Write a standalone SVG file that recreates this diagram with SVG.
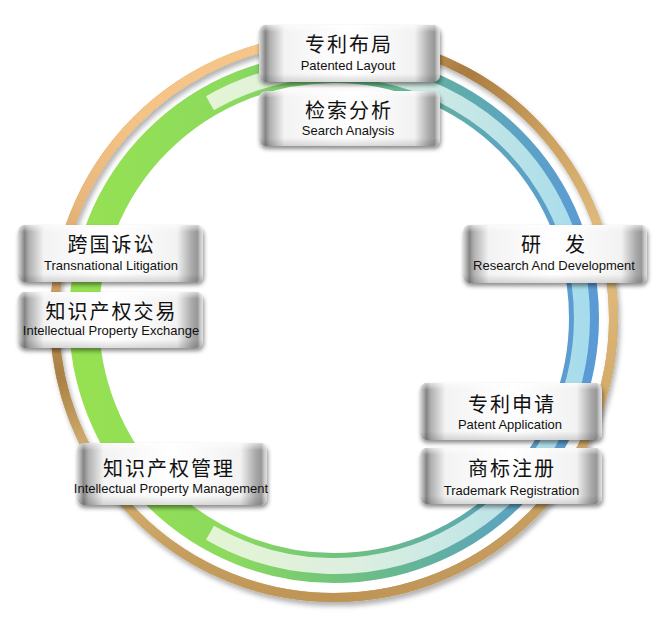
<svg xmlns="http://www.w3.org/2000/svg" width="665" height="626" viewBox="0 0 665 626">
<defs>
<style>
.cn{font-family:"Noto Sans CJK SC","Noto Sans CJK JP",sans-serif;font-size:20px;fill:#111;text-anchor:middle;letter-spacing:2px}
.en{font-family:"Liberation Sans",Arial,sans-serif;font-size:13px;fill:#111;text-anchor:middle}
.box{fill:url(#metal);filter:url(#bshadow)}
.gloss{fill:url(#vgloss)}
.seg{fill:none;stroke-width:9}
</style>
<linearGradient id="metal" x1="0" y1="0" x2="1" y2="0">
<stop offset="0" stop-color="#dcdcdc"/>
<stop offset="0.015" stop-color="#b8b8b8"/>
<stop offset="0.035" stop-color="#858585"/>
<stop offset="0.06" stop-color="#b0b0b0"/>
<stop offset="0.14" stop-color="#f3f3f3"/>
<stop offset="0.5" stop-color="#ffffff"/>
<stop offset="0.86" stop-color="#f2f2f2"/>
<stop offset="0.94" stop-color="#a9a9a9"/>
<stop offset="0.97" stop-color="#989898"/>
<stop offset="0.985" stop-color="#c6c6c6"/>
<stop offset="1" stop-color="#e2e2e2"/>
</linearGradient>
<linearGradient id="vgloss" x1="0" y1="0" x2="0" y2="1">
<stop offset="0" stop-color="#fff" stop-opacity="0.6"/>
<stop offset="0.12" stop-color="#fff" stop-opacity="0"/>
<stop offset="0.85" stop-color="#000" stop-opacity="0"/>
<stop offset="1" stop-color="#000" stop-opacity="0.14"/>
</linearGradient>
<filter id="bshadow" x="-10%" y="-15%" width="125%" height="140%">
<feDropShadow dx="1" dy="3" stdDeviation="2" flood-color="#000" flood-opacity="0.45"/>
</filter>
<filter id="rshadow" x="-10%" y="-10%" width="120%" height="120%">
<feDropShadow dx="2" dy="4" stdDeviation="2.5" flood-color="#000" flood-opacity="0.3"/>
</filter>
<linearGradient id="band" gradientUnits="userSpaceOnUse" x1="84" y1="318" x2="584" y2="318">
<stop offset="0" stop-color="#96e152"/>
<stop offset="0.3" stop-color="#8cda5e"/>
<stop offset="0.5" stop-color="#70c47c"/>
<stop offset="0.7" stop-color="#62b0a0"/>
<stop offset="0.85" stop-color="#5ca4c0"/>
<stop offset="1" stop-color="#5b9bd5"/>
</linearGradient>
<linearGradient id="stripe" gradientUnits="userSpaceOnUse" x1="210" y1="318" x2="584" y2="318">
<stop offset="0" stop-color="#e4f4d4"/>
<stop offset="0.4" stop-color="#dcefe0"/>
<stop offset="0.7" stop-color="#c4e6e6"/>
<stop offset="1" stop-color="#a6dcec"/>
</linearGradient>
<linearGradient id="s1" gradientUnits="userSpaceOnUse" x1="334" y1="597.5" x2="194.25" y2="560.05"><stop offset="0" stop-color="#be9456"/><stop offset="1" stop-color="#c49c5c"/></linearGradient>
<linearGradient id="s2" gradientUnits="userSpaceOnUse" x1="194.25" y1="560.05" x2="91.95" y2="457.75"><stop offset="0" stop-color="#c49c5c"/><stop offset="1" stop-color="#d8b676"/></linearGradient>
<linearGradient id="s3" gradientUnits="userSpaceOnUse" x1="91.95" y1="457.75" x2="60.61" y2="376.11"><stop offset="0" stop-color="#d8b676"/><stop offset="1" stop-color="#a88044"/></linearGradient>
<linearGradient id="s4" gradientUnits="userSpaceOnUse" x1="60.61" y1="376.11" x2="55.56" y2="293.64"><stop offset="0" stop-color="#a88044"/><stop offset="1" stop-color="#c89c60"/></linearGradient>
<linearGradient id="s5" gradientUnits="userSpaceOnUse" x1="55.56" y1="293.64" x2="80.69" y2="199.88"><stop offset="0" stop-color="#c89c60"/><stop offset="1" stop-color="#eab77c"/></linearGradient>
<linearGradient id="s6" gradientUnits="userSpaceOnUse" x1="80.69" y1="199.88" x2="136.36" y2="120.36"><stop offset="0" stop-color="#eab77c"/><stop offset="1" stop-color="#f5c386"/></linearGradient>
<linearGradient id="s7" gradientUnits="userSpaceOnUse" x1="136.36" y1="120.36" x2="285.47" y2="42.75"><stop offset="0" stop-color="#f5c386"/><stop offset="1" stop-color="#f6c68a"/></linearGradient>
<linearGradient id="s8" gradientUnits="userSpaceOnUse" x1="285.47" y1="42.75" x2="382.53" y2="42.75"><stop offset="0" stop-color="#f6c68a"/><stop offset="1" stop-color="#d8a868"/></linearGradient>
<linearGradient id="s9" gradientUnits="userSpaceOnUse" x1="382.53" y1="42.75" x2="465.22" y2="71.22"><stop offset="0" stop-color="#d8a868"/><stop offset="1" stop-color="#a97b40"/></linearGradient>
<linearGradient id="s10" gradientUnits="userSpaceOnUse" x1="465.22" y1="71.22" x2="548.11" y2="138.34"><stop offset="0" stop-color="#a97b40"/><stop offset="1" stop-color="#cda262"/></linearGradient>
<linearGradient id="s11" gradientUnits="userSpaceOnUse" x1="548.11" y1="138.34" x2="603.98" y2="245.66"><stop offset="0" stop-color="#cda262"/><stop offset="1" stop-color="#e2bf80"/></linearGradient>
<linearGradient id="s12" gradientUnits="userSpaceOnUse" x1="603.98" y1="245.66" x2="609.25" y2="366.53"><stop offset="0" stop-color="#e2bf80"/><stop offset="1" stop-color="#d6ae6e"/></linearGradient>
<linearGradient id="s13" gradientUnits="userSpaceOnUse" x1="609.25" y1="366.53" x2="531.64" y2="515.64"><stop offset="0" stop-color="#d6ae6e"/><stop offset="1" stop-color="#c69e60"/></linearGradient>
<linearGradient id="s14" gradientUnits="userSpaceOnUse" x1="531.64" y1="515.64" x2="334" y2="597.5"><stop offset="0" stop-color="#c69e60"/><stop offset="1" stop-color="#be9456"/></linearGradient>
</defs>
<rect width="665" height="626" fill="#ffffff"/>
<g id="connectors">
<g id="outer-ring" filter="url(#rshadow)">
<circle cx="334" cy="318" r="279.5" fill="none" stroke="#c9a062" stroke-width="9"/>
<path class="seg" stroke="url(#s1)" d="M334 597.5A279.5 279.5 0 0 1 194.25 560.05"/>
<path class="seg" stroke="url(#s2)" d="M194.25 560.05A279.5 279.5 0 0 1 91.95 457.75"/>
<path class="seg" stroke="url(#s3)" d="M91.95 457.75A279.5 279.5 0 0 1 60.61 376.11"/>
<path class="seg" stroke="url(#s4)" d="M60.61 376.11A279.5 279.5 0 0 1 55.56 293.64"/>
<path class="seg" stroke="url(#s5)" d="M55.56 293.64A279.5 279.5 0 0 1 80.69 199.88"/>
<path class="seg" stroke="url(#s6)" d="M80.69 199.88A279.5 279.5 0 0 1 136.36 120.36"/>
<path class="seg" stroke="url(#s7)" d="M136.36 120.36A279.5 279.5 0 0 1 285.47 42.75"/>
<path class="seg" stroke="url(#s8)" d="M285.47 42.75A279.5 279.5 0 0 1 382.53 42.75"/>
<path class="seg" stroke="url(#s9)" d="M382.53 42.75A279.5 279.5 0 0 1 465.22 71.22"/>
<path class="seg" stroke="url(#s10)" d="M465.22 71.22A279.5 279.5 0 0 1 548.11 138.34"/>
<path class="seg" stroke="url(#s11)" d="M548.11 138.34A279.5 279.5 0 0 1 603.98 245.66"/>
<path class="seg" stroke="url(#s12)" d="M603.98 245.66A279.5 279.5 0 0 1 609.25 366.53"/>
<path class="seg" stroke="url(#s13)" d="M609.25 366.53A279.5 279.5 0 0 1 531.64 515.64"/>
<path class="seg" stroke="url(#s14)" d="M531.64 515.64A279.5 279.5 0 0 1 334 597.5"/>
</g>
<g id="inner-band">
<circle cx="334" cy="318" r="250" fill="none" stroke="url(#band)" stroke-width="30"/>
<path d="M210 103.2A248 248 0 1 1 210 532.8" fill="none" stroke="url(#stripe)" stroke-width="16"/>
</g>
</g>
<g id="n-patent-layout">
<rect class="box" x="259" y="25" width="181" height="57" rx="7"/>
<rect class="gloss" x="259" y="25" width="181" height="57" rx="7"/>
<text class="cn" x="349" y="52">专利布局</text>
<text class="en" x="348" y="70">Patented Layout</text>
</g>
<g id="n-search-analysis">
<rect class="box" x="259" y="91" width="181" height="55" rx="7"/>
<rect class="gloss" x="259" y="91" width="181" height="55" rx="7"/>
<text class="cn" x="349" y="117.5">检索分析</text>
<text class="en" x="348" y="135">Search Analysis</text>
</g>
<g id="n-transnational-litigation">
<rect class="box" x="18" y="225" width="185" height="57" rx="7"/>
<rect class="gloss" x="18" y="225" width="185" height="57" rx="7"/>
<text class="cn" x="111.5" y="252">跨国诉讼</text>
<text class="en" x="111" y="270">Transnational Litigation</text>
</g>
<g id="n-ip-exchange">
<rect class="box" x="18" y="292" width="185" height="56" rx="7"/>
<rect class="gloss" x="18" y="292" width="185" height="56" rx="7"/>
<text class="cn" x="111.5" y="318.5">知识产权交易</text>
<text class="en" x="111" y="335">Intellectual Property Exchange</text>
</g>
<g id="n-research-development">
<rect class="box" x="463" y="225" width="184" height="58" rx="7"/>
<rect class="gloss" x="463" y="225" width="184" height="58" rx="7"/>
<text class="cn" x="554" y="252">研　发</text>
<text class="en" x="554" y="269.5">Research And Development</text>
</g>
<g id="n-patent-application">
<rect class="box" x="420" y="383" width="182" height="57" rx="7"/>
<rect class="gloss" x="420" y="383" width="182" height="57" rx="7"/>
<text class="cn" x="512" y="411.5">专利申请</text>
<text class="en" x="510" y="428.5">Patent Application</text>
</g>
<g id="n-trademark-registration">
<rect class="box" x="420" y="448" width="182" height="56" rx="7"/>
<rect class="gloss" x="420" y="448" width="182" height="56" rx="7"/>
<text class="cn" x="512" y="476">商标注册</text>
<text class="en" x="511.5" y="495">Trademark Registration</text>
</g>
<g id="n-ip-management">
<rect class="box" x="77" y="443" width="190" height="62" rx="7"/>
<rect class="gloss" x="77" y="443" width="190" height="62" rx="7"/>
<text class="cn" x="169" y="476">知识产权管理</text>
<text class="en" x="171" y="493">Intellectual Property Management</text>
</g>
</svg>
